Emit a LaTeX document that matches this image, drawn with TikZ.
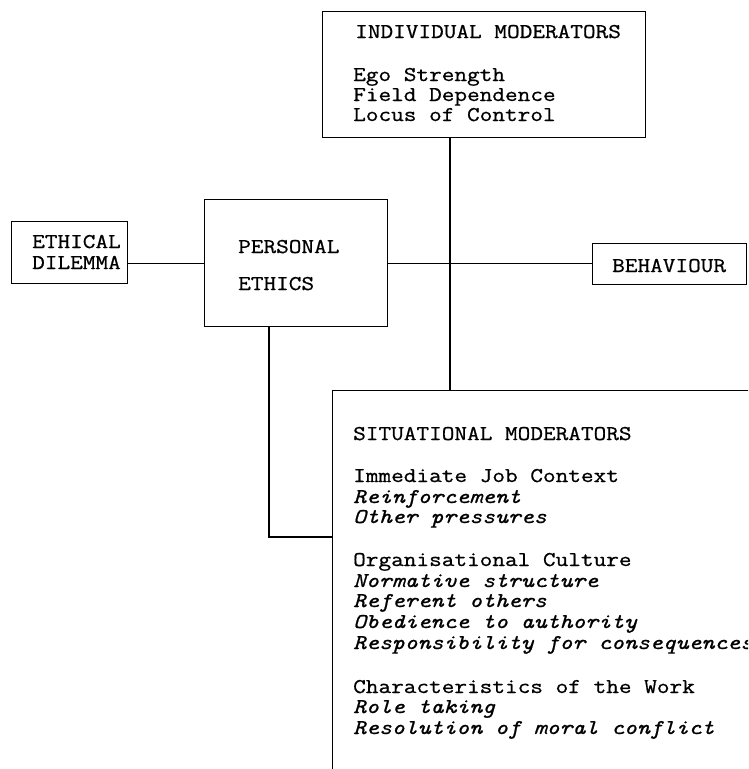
\documentclass[tikz,border=0pt]{standalone}
\usepackage{fontspec}
\setmonofont{Latin Modern Mono}[FakeStretch=1.17,FakeBold=0.8]
\begin{document}
\begin{tikzpicture}[x=1pt,y=-1pt,
  box/.style={draw, line width=1.1pt, rectangle, inner sep=0pt, anchor=north west},
  txt/.style={anchor=base west, inner sep=0pt, font=\fontsize{21}{21}\selectfont\ttfamily},
  itx/.style={txt, font=\fontsize{21}{21}\selectfont\ttfamily\itshape},
  conn/.style={line width=1.1pt}]
\useasboundingbox (0,0) rectangle (748,769);
\clip (0,0) rectangle (748,769);
% boxes
\node[box, minimum width=116pt, minimum height=62pt] (ed) at (11,221) {};
\node[box, minimum width=183pt, minimum height=127pt] (pe) at (204,199) {};
\node[box, minimum width=323pt, minimum height=126pt] (im) at (322,11) {};
\node[box, minimum width=154pt, minimum height=41pt] (beh) at (592,243) {};
\node[box, minimum width=470pt, minimum height=430pt] (sm) at (332,390) {};
% texts
\node[txt] (t1) at (32,248) {ETHICAL};
\node[txt] (t2) at (32,269) {DILEMMA};
\node[txt] (t3) at (238,253) {PERSONAL};
\node[txt] (t4) at (238,290) {ETHICS};
\node[txt] (t5) at (612,272) {BEHAVIOUR};
\node[txt] (t6) at (355,38) {INDIVIDUAL MODERATORS};
\node[txt] (t7) at (353,81) {Ego Strength};
\node[txt] (t8) at (353,101) {Field Dependence};
\node[txt] (t9) at (353,121) {Locus of Control};
\node[txt] (s1) at (353,440) {SITUATIONAL MODERATORS};
\node[txt] (s2) at (353,482) {Immediate Job Context};
\node[itx] (s3) at (353,503) {Reinforcement};
\node[itx] (s4) at (353,523) {Other pressures};
\node[txt] (s5) at (353,566) {Organisational Culture};
\node[itx] (s6) at (353,587) {Normative structure};
\node[itx] (s7) at (353,607) {Referent others};
\node[itx] (s8) at (353,628) {Obedience to authority};
\node[itx] (s9) at (353,649) {Responsibility for consequences};
\node[txt] (s10) at (353,693) {Characteristics of the Work};
\node[itx] (s11) at (353,713) {Role taking};
\node[itx] (s12) at (353,734) {Resolution of moral conflict};
% connectors
\coordinate (iv) at (450,200);
\coordinate (pv) at (269,537);
\draw[conn] (pe.west) -- (pe.west -| ed.east);
\draw[conn] (pe.east) -- (pe.east -| beh.west);
\draw[conn] (iv |- im.south) -- (iv |- sm.north);
\draw[conn] (pv |- pe.south) -- (pv) -- (pv -| sm.west);
\end{tikzpicture}
\end{document}
